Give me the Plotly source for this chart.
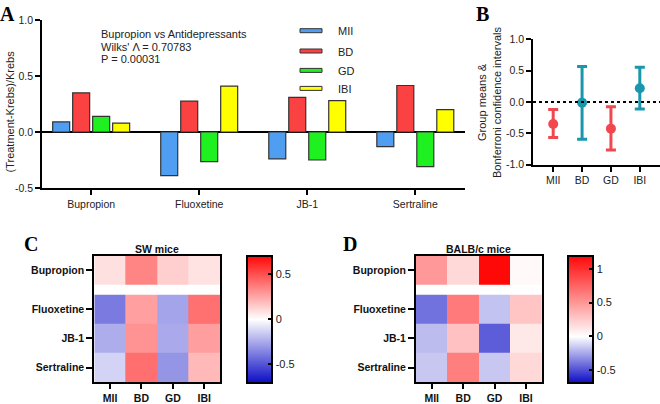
import plotly.graph_objects as go

W, H = 660, 404

# ---------------- data ----------------
drugs = ["Bupropion", "Fluoxetine", "JB-1", "Sertraline"]
measures = ["MII", "BD", "GD", "IBI"]

# Panel A: (Treatment-Krebs)/Krebs per drug, per measure
mii_vals = [0.09, -0.39, -0.24, -0.13]
bd_vals = [0.35, 0.275, 0.31, 0.415]
gd_vals = [0.14, -0.265, -0.25, -0.31]
ibi_vals = [0.08, 0.41, 0.28, 0.20]

# Panel B: group means and Bonferroni CIs
b_means = [-0.35, -0.01, -0.425, 0.22]
b_low = [-0.565, -0.595, -0.765, -0.11]
b_high = [-0.12, 0.565, -0.075, 0.555]
b_colors = ["#f2474f", "#1a97ad", "#f2474f", "#1a97ad"]

# Panel C: SW mice heat map (rows = drugs, cols = measures)
sw_bupropion = [0.09, 0.35, 0.14, 0.08]
sw_fluoxetine = [-0.39, 0.275, -0.265, 0.41]
sw_jb1 = [-0.24, 0.31, -0.25, 0.28]
sw_sertraline = [-0.13, 0.415, -0.31, 0.20]
sw_range = [-0.71, 0.71]
sw_ticks = [-0.5, 0, 0.5]

# Panel D: BALB/c mice heat map
balb_bupropion = [0.50, 0.19, 1.20, 0.03]
balb_fluoxetine = [-0.40, 0.64, -0.17, 0.28]
balb_jb1 = [-0.19, 0.30, -0.46, 0.11]
balb_sertraline = [-0.16, 0.62, -0.16, 0.19]
balb_range = [-0.69, 1.2]
balb_ticks = [-0.5, 0, 0.5, 1.0]

bar_colors = {"MII": "#4f9ef2", "BD": "#fb4242", "GD": "#1ff01f", "IBI": "#ffff00"}

FONT = "Liberation Sans, Arial, sans-serif"
SERIF = "Liberation Serif, Times New Roman, serif"


def px(x):
    return x / W


def py(y):
    return 1 - y / H


fig = go.Figure()

# ---------------- Panel A ----------------
for name, vals in zip(measures, [mii_vals, bd_vals, gd_vals, ibi_vals]):
    fig.add_trace(go.Bar(
        x=list(range(len(drugs))), y=vals, name=name,
        marker=dict(color=bar_colors[name], line=dict(color="#333333", width=1.2)),
        xaxis="x", yaxis="y", showlegend=False))

# ---------------- Panel B ----------------
for col in sorted(set(b_colors)):
    idx = [i for i, c in enumerate(b_colors) if c == col]
    fig.add_trace(go.Scatter(
        x=[i for i in idx], y=[b_means[i] for i in idx], mode="markers",
        marker=dict(color=col, size=10),
        error_y=dict(type="data", symmetric=False,
                     array=[b_high[i] - b_means[i] for i in idx],
                     arrayminus=[b_means[i] - b_low[i] for i in idx],
                     color=col, thickness=3, width=5),
        xaxis="x2", yaxis="y2", showlegend=False))

# ---------------- Heat maps (C, D) ----------------
GAP = 0.32  # blank separator row between Bupropion and the others
row_edges = [0, 1, 1 + GAP]
for k in range(3):
    row_edges.append(row_edges[-1] + 1)
row_centers = [0.5] + [(row_edges[i] + row_edges[i + 1]) / 2 for i in range(2, 5)]


def cscale(zr):
    mid = -zr[0] / (zr[1] - zr[0])
    return [[0, "rgb(12,12,198)"], [mid, "rgb(255,255,255)"], [1, "rgb(255,8,8)"]]


blank = [None] * 4
heat_specs = [
    ("x3", "y3", [sw_bupropion, blank, sw_fluoxetine, sw_jb1, sw_sertraline], sw_range, sw_ticks,
     247, 27),
    ("x4", "y4", [balb_bupropion, blank, balb_fluoxetine, balb_jb1, balb_sertraline], balb_range,
     balb_ticks, 567.5, 27),
]
CB_TOP, CB_BOT = 255.7, 382.3
for xa, ya, z, zr, ticks, cbx, cbw in heat_specs:
    fig.add_trace(go.Heatmap(
        z=z, x=list(range(len(measures))), y=row_edges,
        zmin=zr[0], zmax=zr[1], colorscale=cscale(zr),
        xaxis=xa, yaxis=ya, hoverongaps=False,
        colorbar=dict(
            x=px(cbx), xanchor="left", y=py((CB_TOP + CB_BOT) / 2), yanchor="middle",
            len=(CB_BOT - CB_TOP) / H, lenmode="fraction", thickness=cbw - 2,
            outlinewidth=2, outlinecolor="black", xpad=0, ypad=0,
            tickvals=ticks, ticktext=[("%g" % t if t != 0 else "0") for t in ticks],
            ticks="inside", ticklen=5, tickwidth=2, tickcolor="black",
            tickfont=dict(family=FONT, size=11, color="#222"))))

# ---------------- axes ----------------
axis_common = dict(showgrid=False, zeroline=False, showline=True, linecolor="black",
                   ticks="outside", tickcolor="black", automargin=False,
                   tickfont=dict(family=FONT, size=10.5, color="#222"))

layout = dict(
    width=W, height=H, margin=dict(l=0, r=0, t=0, b=0),
    paper_bgcolor="white", plot_bgcolor="white",
    barmode="group", bargap=0.26, bargroupgap=0.15,
    font=dict(family=FONT, size=11, color="#222"),
    xaxis=dict(axis_common, domain=[px(42), px(465)], range=[-0.455, 3.46],
               tickvals=list(range(len(drugs))), ticktext=drugs, linewidth=1.8,
               ticklen=5, tickwidth=1.8, anchor="y"),
    yaxis=dict(axis_common, domain=[py(188), py(20)], range=[-0.5, 1.0],
               tickvals=[-0.5, 0, 0.5, 1.0], ticktext=["-0.5", "0.0", "0.5", "1.0"],
               linewidth=1.8, ticklen=5, tickwidth=1.8, zeroline=True,
               zerolinecolor="black", zerolinewidth=1.6, anchor="x"),
    xaxis2=dict(axis_common, domain=[px(533), 1.0], range=[-0.7, 3.7],
                tickvals=list(range(len(measures))), ticktext=measures, linewidth=1.8,
                ticklen=5, tickwidth=1.8, anchor="y2"),
    yaxis2=dict(axis_common, domain=[py(164.7), py(39.3)], range=[-1.0, 1.0],
                tickvals=[-1, -0.5, 0, 0.5, 1], ticktext=["-1.0", "-0.5", "0.0", "0.5", "1.0"],
                linewidth=1.8, ticklen=5, tickwidth=1.8, anchor="x2"),
)
bold_font = dict(family=FONT, size=10.5, color="#111")
for xa, ya, x0, x1 in [("xaxis3", "yaxis3", 94.3, 220), ("xaxis4", "yaxis4", 416, 541.7)]:
    layout[xa] = dict(axis_common, domain=[px(x0), px(x1)], range=[-0.5, 3.5],
                      tickvals=list(range(len(measures))),
                      ticktext=["<b>%s</b>" % m for m in measures], tickfont=bold_font,
                      linewidth=2, mirror=True, ticklen=5, tickwidth=1.8,
                      anchor="y" + ya[-1])
    layout[ya] = dict(axis_common, domain=[py(382.3), py(255.7)],
                      range=[row_edges[-1], 0], tickvals=row_centers,
                      ticktext=["<b>%s</b>" % d for d in drugs], tickfont=bold_font,
                      linewidth=2, mirror=True, ticklen=6, tickwidth=1.8,
                      anchor="x" + xa[-1])
fig.update_layout(**layout)

# ---------------- annotations & decorations ----------------
ann = []
for letter, (x, y) in zip("ABCD", [(7, 14), (482, 14), (31, 244), (350, 244)]):
    ann.append(dict(text="<b>%s</b>" % letter, x=px(x), y=py(y), xref="paper", yref="paper",
                    showarrow=False, font=dict(family=SERIF, size=20, color="black"),
                    xanchor="center", yanchor="middle"))
for text, x, y in [("(Treatment-Krebs)/Krebs", 9.5, 112),
                   ("Group means &", 482, 102),
                   ("Bonferroni confidence intervals", 497, 102)]:
    ann.append(dict(text=text, x=px(x), y=py(y), xref="paper", yref="paper",
                    showarrow=False, textangle=-90, xanchor="center", yanchor="middle",
                    font=dict(family=FONT, size=11, color="#222")))
for i, line in enumerate(["Bupropion vs Antidepressants", "Wilks' \u039b = 0.70783", "P = 0.00031"]):
    ann.append(dict(text=line, x=px(99), y=py(34.5 + 12.4 * i), xref="paper", yref="paper",
                    showarrow=False, xanchor="left", yanchor="middle",
                    font=dict(family=FONT, size=11, color="#222")))
for title, xc in [("SW mice", 157), ("BALB/c mice", 479)]:
    ann.append(dict(text="<b>%s</b>" % title, x=px(xc), y=py(249), xref="paper", yref="paper",
                    showarrow=False, font=dict(family=FONT, size=10.5, color="#111"),
                    xanchor="center", yanchor="middle"))

shapes = []
# Legend for panel A
for i, m in enumerate(measures):
    yc = [30.7, 51, 70.4, 88.4][i]
    shapes.append(dict(type="rect", xref="paper", yref="paper", x0=px(300), x1=px(322),
                       y0=py(yc + 2), y1=py(yc - 2), fillcolor=bar_colors[m],
                       line=dict(color="#333333", width=1)))
    ann.append(dict(text=m, x=px(335.5), y=py(yc + 0.8), xref="paper", yref="paper",
                    showarrow=False, xanchor="left", yanchor="middle",
                    font=dict(family=FONT, size=11, color="#222")))
# dotted zero line in panel B
shapes.append(dict(type="line", xref="x2 domain", yref="y2", x0=0, x1=1, y0=0, y1=0,
                   line=dict(color="black", width=2, dash="dot")))
# tick marks on left edge of color bars
for _, _, _, zr, ticks, cbx, cbw in heat_specs:
    for t in ticks:
        yy = CB_TOP + (zr[1] - t) / (zr[1] - zr[0]) * (CB_BOT - CB_TOP)
        shapes.append(dict(type="line", xref="paper", yref="paper", x0=px(cbx + 1),
                           x1=px(cbx + 6), y0=py(yy), y1=py(yy),
                           line=dict(color="black", width=2)))

fig.update_layout(annotations=ann, shapes=shapes)
fig.write_html("out.html", config={"displayModeBar": False},
               post_script="document.body.style.margin='0';document.body.style.overflow='hidden';")
